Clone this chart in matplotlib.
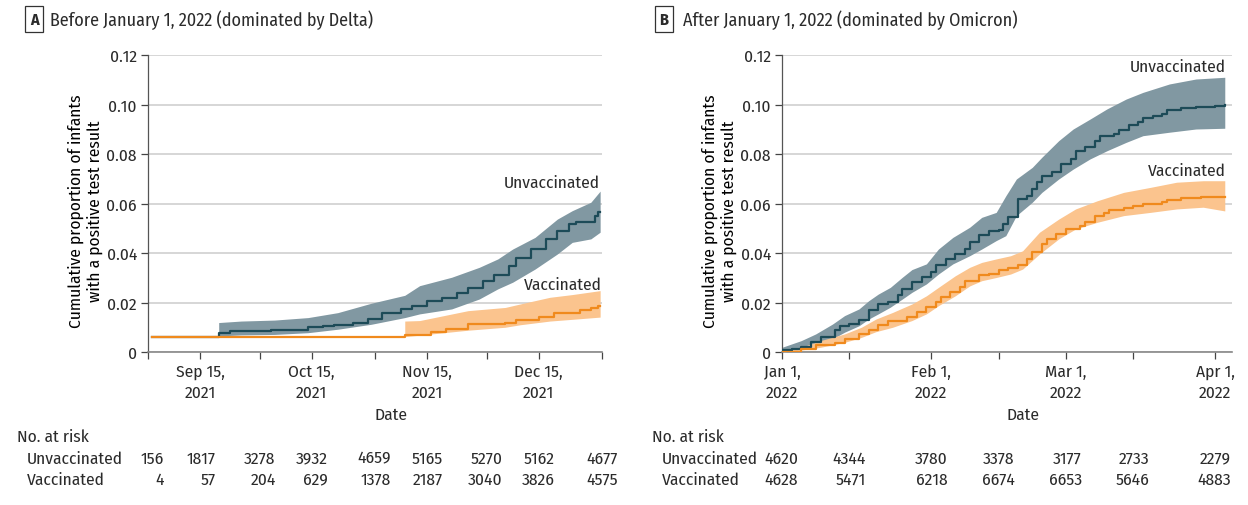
import numpy as np
import matplotlib
matplotlib.use("Agg")
import matplotlib.pyplot as plt
import matplotlib.transforms as mtransforms

plt.rcParams['font.family'] = ['Fira Sans Condensed', 'DejaVu Sans']
plt.rcParams['font.size'] = 12
plt.rcParams['text.color'] = '#2b2b2b'

# ---- Panel A (days since Sep 1, 2021) ----
a_unvac_day = [1, 19, 22, 33, 43, 47, 50, 55, 59, 63, 68, 71, 75, 79, 83, 86, 90, 93,
               97, 99, 103, 107, 110, 113, 115, 120, 121, 121.5]
a_unvac_val = [0.0062, 0.0077, 0.0083, 0.0090, 0.0101, 0.0105, 0.0110, 0.0119, 0.0132,
               0.0156, 0.0172, 0.0186, 0.0205, 0.0218, 0.0240, 0.0260, 0.0287, 0.0310,
               0.0347, 0.0381, 0.0417, 0.0455, 0.0489, 0.0516, 0.0525, 0.0550, 0.0566, 0.0566]
a_unvac_band_day = [19, 25, 34, 43, 51, 60, 69, 73, 81.6, 89, 94, 98, 104, 110, 114, 119, 121.5]
a_unvac_lo = [0.0065, 0.0069, 0.0071, 0.0078, 0.0092, 0.0112, 0.0139, 0.0154, 0.0174,
              0.0214, 0.0255, 0.0282, 0.0335, 0.0396, 0.0443, 0.0457, 0.0484]
a_unvac_hi = [0.0119, 0.0125, 0.0129, 0.0139, 0.0159, 0.0197, 0.0229, 0.0268, 0.0302,
              0.0342, 0.0376, 0.0416, 0.0463, 0.0537, 0.0571, 0.0605, 0.0650]

a_vac_day = [1, 69, 76, 80, 86, 96, 99, 105, 109, 116, 119, 121, 121.5]
a_vac_val = [0.0062, 0.0069, 0.0081, 0.0094, 0.0114, 0.0119, 0.0128, 0.0141, 0.0159,
             0.0170, 0.0179, 0.0186, 0.0186]
a_vac_band_day = [69, 73, 86, 96, 100, 108, 114, 121.5]
a_vac_lo = [0.0062, 0.0068, 0.0088, 0.0100, 0.0110, 0.0125, 0.0132, 0.0141]
a_vac_hi = [0.0125, 0.0127, 0.0167, 0.0180, 0.0194, 0.0221, 0.0232, 0.0248]

a_ticks = [0, 14, 30, 44, 61, 75, 91, 105, 122]
a_ticklabels = ['', 'Sep 15,\n2021', '', 'Oct 15,\n2021', '', 'Nov 15,\n2021', '',
                'Dec 15,\n2021', '']
a_risk_unvac = [156, 1817, 3278, 3932, 4659, 5165, 5270, 5162, 4677]
a_risk_vac = [4, 57, 204, 629, 1378, 2187, 3040, 3826, 4575]

# ---- Panel B (days since Jan 1, 2022) ----
b_unvac_day = [0, 2, 4, 6, 8, 11, 12, 14, 16, 18, 20, 22, 24, 25, 27, 29, 31, 32, 34, 36,
               38, 39, 41, 43, 45, 46, 47, 49, 51, 52, 53, 54, 56, 58, 60, 61, 63, 65, 66, 69,
               70, 72, 74, 75, 77, 79, 80, 83, 86, 90, 92]
b_unvac_val = [0.0007, 0.0013, 0.0020, 0.0040, 0.0060, 0.0087, 0.0105, 0.0114, 0.0128, 0.0168,
               0.0192, 0.0202, 0.0229, 0.0253, 0.0282, 0.0303, 0.0323, 0.0350, 0.0377, 0.0397,
               0.0417, 0.0444, 0.0471, 0.0487, 0.0491, 0.0518, 0.0545, 0.0619, 0.0632, 0.0659,
               0.0686, 0.0713, 0.0726, 0.0760, 0.0780, 0.0814, 0.0827, 0.0854, 0.0872, 0.0881,
               0.0895, 0.0917, 0.0928, 0.0944, 0.0952, 0.0962, 0.0979, 0.0986, 0.0991, 0.0995,
               0.0999]
b_unvac_band_day = [0, 4, 7, 10.5, 13, 16, 18, 20, 22.5, 25, 27, 30, 32.5, 35.5, 39, 41.5,
                    44.5, 46.5, 48.7, 52, 54, 57.5, 60.5, 64, 67.5, 71.5, 75, 80.5, 86, 92]
b_unvac_lo = [0.0, 0.0012, 0.0025, 0.0053, 0.0080, 0.0106, 0.0133, 0.0154, 0.0181, 0.0214,
              0.0241, 0.0275, 0.0315, 0.0356, 0.0389, 0.0416, 0.0450, 0.0470, 0.0551, 0.0605,
              0.0645, 0.0699, 0.0739, 0.0780, 0.0813, 0.0847, 0.0874, 0.0888, 0.0901, 0.0904]
b_unvac_hi = [0.0019, 0.0046, 0.0073, 0.0113, 0.0147, 0.0174, 0.0207, 0.0234, 0.0261, 0.0302,
              0.0333, 0.0356, 0.0416, 0.0463, 0.0504, 0.0544, 0.0564, 0.0631, 0.0699, 0.0746,
              0.0787, 0.0854, 0.0901, 0.0941, 0.0982, 0.1022, 0.1049, 0.1083, 0.1103, 0.1110]

b_vac_day = [0, 4, 7, 11, 13, 16, 18, 20, 22, 26, 28, 30, 32, 33, 35, 37, 38, 41, 43, 45,
             47, 49, 51, 52, 54, 55, 57, 59, 62, 63, 65, 67, 68, 71, 73, 75, 79, 80, 83, 87, 92]
b_vac_val = [0.0, 0.0013, 0.0027, 0.0038, 0.0054, 0.0074, 0.0087, 0.0110, 0.0124, 0.0141,
             0.0161, 0.0182, 0.0202, 0.0222, 0.0242, 0.0262, 0.0285, 0.0312, 0.0316, 0.0330,
             0.0339, 0.0352, 0.0377, 0.0404, 0.0437, 0.0457, 0.0478, 0.0495, 0.0511, 0.0527,
             0.0548, 0.0562, 0.0572, 0.0581, 0.0589, 0.0596, 0.0605, 0.0616, 0.0624, 0.0626,
             0.0628]
b_vac_band_day = [0, 4, 8, 13, 16.5, 19.5, 23, 27, 30, 32.5, 36, 39, 41.5, 44.5, 47.5, 50,
                  53.5, 57.5, 61, 65.5, 71, 76.5, 82, 87.5, 92]
b_vac_lo = [0.0, 0.0008, 0.0019, 0.0039, 0.0059, 0.0082, 0.0100, 0.0127, 0.0154, 0.0187,
            0.0227, 0.0267, 0.0288, 0.0301, 0.0315, 0.0335, 0.0396, 0.0457, 0.0497, 0.0524,
            0.0551, 0.0564, 0.0578, 0.0585, 0.0570]
b_vac_hi = [0.0, 0.0019, 0.0046, 0.0073, 0.0100, 0.0133, 0.0160, 0.0194, 0.0227, 0.0261,
            0.0308, 0.0342, 0.0362, 0.0376, 0.0389, 0.0409, 0.0484, 0.0537, 0.0578, 0.0611,
            0.0645, 0.0665, 0.0686, 0.0692, 0.0692]

b_ticks = [0, 14, 31, 45, 59, 73, 90]
b_ticklabels = ['Jan 1,\n2022', '', 'Feb 1,\n2022', '', 'Mar 1,\n2022', '', 'Apr 1,\n2022']
b_risk_unvac = [4620, 4344, 3780, 3378, 3177, 2733, 2279]
b_risk_vac = [4628, 5471, 6218, 6674, 6653, 5646, 4883]

UNVAC_LINE = '#1d4b58'
UNVAC_BAND = '#8198a2'
VAC_LINE = '#f08a1d'
VAC_BAND = '#fbc48e'

fig = plt.figure(figsize=(12.48, 5.06), dpi=100)
axA = fig.add_axes([148 / 1248, 1 - 353 / 506, 454 / 1248, 297 / 506])
axB = fig.add_axes([782 / 1248, 1 - 353 / 506, 450 / 1248, 297 / 506])


def draw_panel(ax, uday, uval, uband_day, ulo, uhi, vday, vval, vband_day, vlo, vhi,
               xmax, ticks, ticklabels):
    ax.fill_between(uband_day, ulo, uhi, color=UNVAC_BAND, lw=0, zorder=2)
    ax.fill_between(vband_day, vlo, vhi, color=VAC_BAND, lw=0, zorder=3)
    ax.step(uday, uval, where='post', color=UNVAC_LINE, lw=1.6, zorder=4)
    ax.step(vday, vval, where='post', color=VAC_LINE, lw=1.6, zorder=5)

    ax.set_xlim(0, xmax)
    ax.set_ylim(0, 0.12)
    ax.set_yticks([0, 0.02, 0.04, 0.06, 0.08, 0.10, 0.12])
    ax.set_yticklabels(['0', '0.02', '0.04', '0.06', '0.08', '0.10', '0.12'])
    ax.set_xticks(ticks)
    ax.set_xticklabels(ticklabels, linespacing=1.45)
    ax.grid(axis='y', color='#d6d6d6', lw=1.4, zorder=0)
    ax.set_axisbelow(True)
    for s in ['top', 'right']:
        ax.spines[s].set_visible(False)
    ax.spines['left'].set_color('#555555')
    ax.spines['bottom'].set_color('#888888')
    ax.spines['left'].set_linewidth(0.9)
    ax.spines['bottom'].set_linewidth(1.2)
    ax.tick_params(axis='both', length=5, width=0.9, color='#444444', labelsize=12.5,
                   labelcolor='#2b2b2b')
    ax.tick_params(axis='x', pad=3)
    ax.tick_params(axis='y', pad=3)
    ax.set_ylabel('Cumulative proportion of infants\nwith a positive test result',
                  fontsize=12.5, linespacing=1.2)
    ax.yaxis.set_label_coords(-0.1, 0.478)
    ax.text(0.535, -0.21, 'Date', transform=ax.transAxes, ha='center', va='center',
            fontsize=12.5)


draw_panel(axA, a_unvac_day, a_unvac_val, a_unvac_band_day, a_unvac_lo, a_unvac_hi,
           a_vac_day, a_vac_val, a_vac_band_day, a_vac_lo, a_vac_hi, 122,
           a_ticks, a_ticklabels)
draw_panel(axB, b_unvac_day, b_unvac_val, b_unvac_band_day, b_unvac_lo, b_unvac_hi,
           b_vac_day, b_vac_val, b_vac_band_day, b_vac_lo, b_vac_hi, 93.5,
           b_ticks, b_ticklabels)

# series labels
axA.text(121.5, 0.0687, 'Unvaccinated', ha='right', va='center', fontsize=12.5)
axA.text(122, 0.0273, 'Vaccinated', ha='right', va='center', fontsize=12.5)
axB.text(92.3, 0.1156, 'Unvaccinated', ha='right', va='center', fontsize=12.5)
axB.text(92.3, 0.0735, 'Vaccinated', ha='right', va='center', fontsize=12.5)

# panel titles
fig.text(34 / 1248, 1 - 20 / 506, 'A', ha='center', va='center', fontsize=11.5,
         fontweight='bold',
         bbox=dict(boxstyle='square,pad=0.3', fc='white', ec='#333333', lw=0.9))
fig.text(50 / 1248, 1 - 20 / 506, 'Before January 1, 2022 (dominated by Delta)',
         ha='left', va='center', fontsize=13)
fig.text(664 / 1248, 1 - 20 / 506, 'B', ha='center', va='center', fontsize=11.5,
         fontweight='bold',
         bbox=dict(boxstyle='square,pad=0.3', fc='white', ec='#333333', lw=0.9))
fig.text(683 / 1248, 1 - 20 / 506, 'After January 1, 2022 (dominated by Omicron)',
         ha='left', va='center', fontsize=13)

# number at risk tables
shift = mtransforms.ScaledTranslation(16 / 100, 0, fig.dpi_scale_trans)
for ax, left, ticks, unvac, vac in [(axA, 17, a_ticks, a_risk_unvac, a_risk_vac),
                                    (axB, 652, b_ticks, b_risk_unvac, b_risk_vac)]:
    fig.text(left / 1248, 1 - 437 / 506, 'No. at risk', ha='left', va='center', fontsize=12.5)
    fig.text((left + 10) / 1248, 1 - 459 / 506, 'Unvaccinated', ha='left', va='center',
             fontsize=12.5)
    fig.text((left + 10) / 1248, 1 - 480 / 506, 'Vaccinated', ha='left', va='center',
             fontsize=12.5)
    trans = mtransforms.blended_transform_factory(ax.transData, fig.transFigure) + shift
    for t, u, v in zip(ticks, unvac, vac):
        fig.text(t, 1 - 459 / 506, str(u), ha='right', va='center', transform=trans,
                 fontsize=12.5)
        fig.text(t, 1 - 480 / 506, str(v), ha='right', va='center', transform=trans,
                 fontsize=12.5)

fig.savefig('out.png', dpi=100, facecolor='white')
